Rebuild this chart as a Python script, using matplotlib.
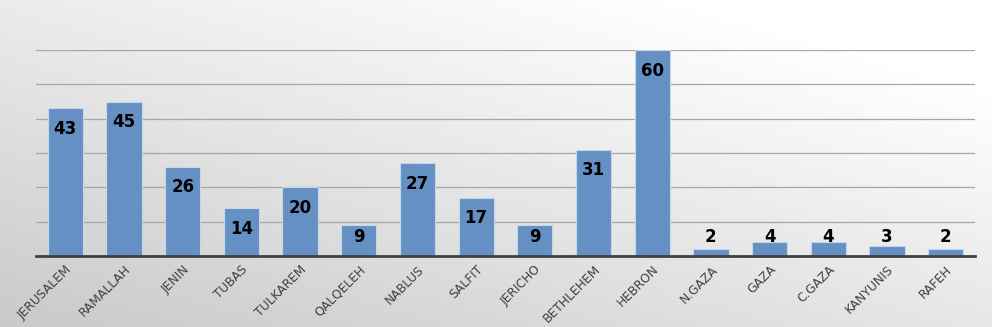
import numpy as np
import matplotlib.pyplot as plt

cities = ["JERUSALEM", "RAMALLAH", "JENIN", "TUBAS", "TULKAREM", "QALQELEH",
          "NABLUS", "SALFIT", "JERICHO", "BETHLEHEM", "HEBRON", "N.GAZA",
          "GAZA", "C.GAZA", "KANYUNIS", "RAFEH"]
counts = [43, 45, 26, 14, 20, 9, 27, 17, 9, 31, 60, 2, 4, 4, 3, 2]

fig = plt.figure(figsize=(9.92, 3.27), dpi=100)

# gradient background, white top-right to grey bottom-left
bg = fig.add_axes([0, 0, 1, 1], zorder=-5)
yy, xx = np.mgrid[0:1:200j, 0:1:400j]
t = np.clip((xx * 0.6 + yy * 0.7) / 1.1, 0, 1)
shade = 0.79 + 0.21 * t
bg.imshow(np.dstack([shade, shade, shade]), origin="lower", aspect="auto",
          extent=[0, 1, 0, 1])
bg.axis("off")

ax = fig.add_axes([36 / 992, 71 / 327, 939 / 992, 206 / 327])
ax.patch.set_alpha(0)

x = np.arange(len(cities))
ax.bar(x, counts, width=0.6, color="#6590C4", edgecolor="#C5D6EA",
       linewidth=0.8, zorder=3)

for xi, v in zip(x, counts):
    ax.text(xi, max(v - 6, 5.6), str(v), ha="center", va="center",
            fontsize=12, fontweight="bold", color="black", zorder=4)

ax.set_xlim(-0.5, len(cities) - 0.5)
ax.set_ylim(0, 60)
ax.set_yticks(np.arange(0, 61, 10))
ax.set_yticklabels([])
ax.tick_params(axis="y", length=0)
ax.yaxis.grid(True, color="#A6A6A6", linewidth=0.9, zorder=0)

ax.set_xticks(x)
ax.set_xticklabels(cities, rotation=45, ha="right", rotation_mode="anchor",
                   fontsize=8.8, color="#404040")
ax.tick_params(axis="x", length=0, pad=5)

for s in ["top", "right", "left"]:
    ax.spines[s].set_visible(False)
ax.spines["bottom"].set_color("#404040")
ax.spines["bottom"].set_linewidth(2)
ax.spines["bottom"].set_zorder(5)

fig.savefig("out.png", dpi=100)
